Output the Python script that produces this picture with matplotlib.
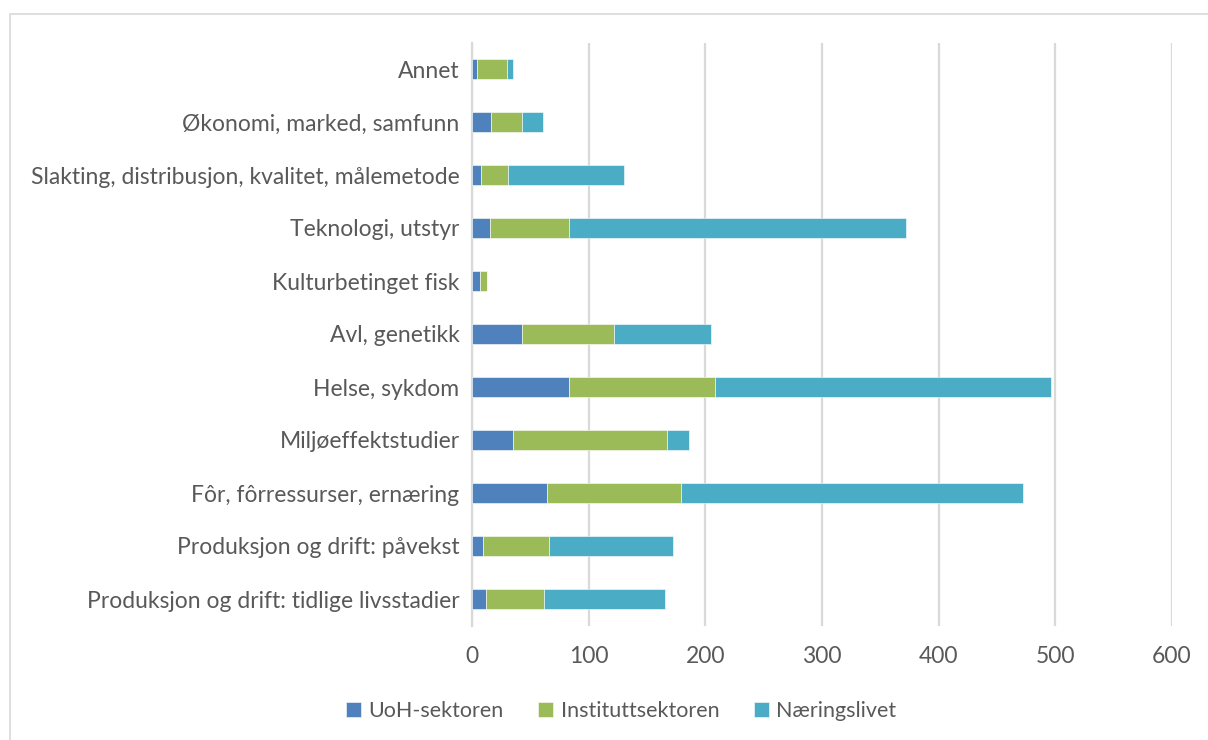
import numpy as np
import matplotlib.pyplot as plt
from matplotlib.patches import Rectangle

# Kategorier (nederst -> øverst)
categories = [
    "Produksjon og drift: tidlige livsstadier",
    "Produksjon og drift: påvekst",
    "Fôr, fôrressurser, ernæring",
    "Miljøeffektstudier",
    "Helse, sykdom",
    "Avl, genetikk",
    "Kulturbetinget fisk",
    "Teknologi, utstyr",
    "Slakting, distribusjon, kvalitet, målemetode",
    "Økonomi, marked, samfunn",
    "Annet",
]
uoh = [12, 9, 64, 35, 83, 43, 7, 15, 8, 16, 4]
institutt = [50, 57, 115, 132, 125, 79, 6, 68, 23, 27, 26]
naering = [103, 106, 293, 19, 288, 83, 0, 289, 99, 18, 5]
series_names = ["UoH-sektoren", "Instituttsektoren", "Næringslivet"]
colors = ["#4F81BD", "#9BBB59", "#4BACC6"]
xticks = [0, 100, 200, 300, 400, 500, 600]

plt.rcParams["font.family"] = ["Lato", "DejaVu Sans"]
text_color = "#595959"

fig = plt.figure(figsize=(12.08, 7.40), dpi=100)
ax = fig.add_axes([472 / 1208, 1 - 625.5 / 740, 700 / 1208, 583 / 740])

# ramme rundt figuren
fig.patches.append(Rectangle((10 / 1208, -0.01), 1.1, 1 - 14 / 740 + 0.01,
                             transform=fig.transFigure, fill=False,
                             edgecolor="#D9D9D9", linewidth=1.2))

y = np.arange(len(categories))
left = np.zeros(len(categories))
for vals, name, c in zip([uoh, institutt, naering], series_names, colors):
    ax.barh(y, vals, left=left, height=0.39, color=c, label=name,
            edgecolor="white", linewidth=0.4, zorder=3)
    left += np.array(vals)

ax.set_xlim(0, 600)
ax.set_ylim(-0.5, len(categories) - 0.5)
ax.set_xticks(xticks)
ax.set_yticks(y)
ax.set_yticklabels(categories)
ax.tick_params(axis="both", length=0, labelsize=16.5, colors=text_color)
ax.tick_params(axis="y", pad=9)
ax.tick_params(axis="x", pad=15)
ax.grid(axis="x", color="#D9D9D9", linewidth=1.6, zorder=0)
for s in ["top", "right", "bottom"]:
    ax.spines[s].set_visible(False)
ax.spines["left"].set_color("#D9D9D9")
ax.spines["left"].set_linewidth(1.6)

fig.legend(loc="center", bbox_to_anchor=(621 / 1208, 1 - 711 / 740), ncol=3,
           frameon=False, fontsize=15.5, labelcolor=text_color,
           handlelength=0.7, handleheight=0.7, handletextpad=0.35,
           columnspacing=1.6)

fig.savefig("out.png", dpi=100)
